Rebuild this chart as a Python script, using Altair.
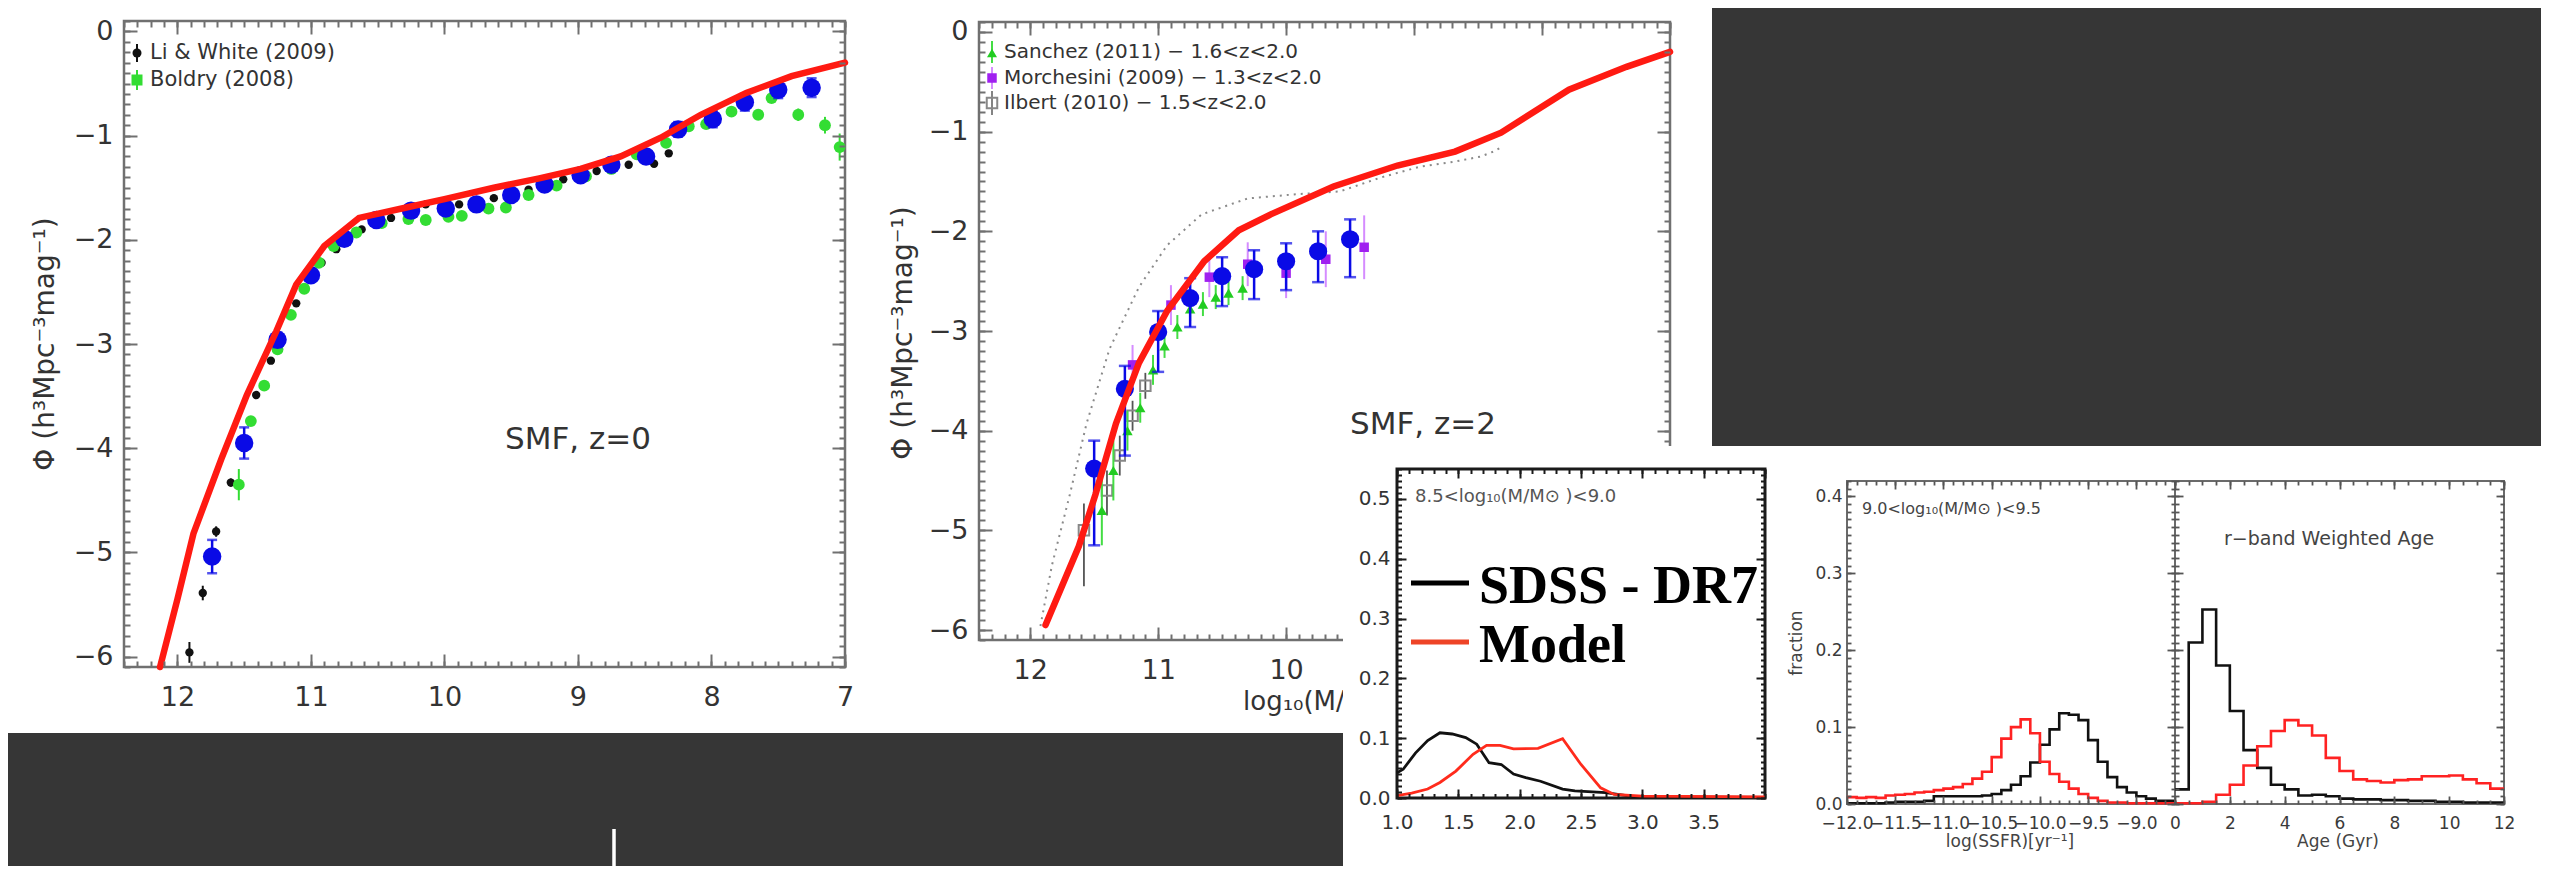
import altair as alt
import numpy as np
import pandas as pd

W, H = 2533, 858
FONT = "DejaVu Sans"
TXT = "#333333"

# ---------------- Panel 1 : SMF z=0 ----------------
p1_model_x = [12.13, 12.0, 11.88, 11.67, 11.48, 11.26, 11.11, 10.9, 10.64, 10.32, 10.0, 9.63, 9.29, 8.98, 8.68, 8.38, 8.08, 7.74, 7.40, 7.0]
p1_model_y = [-6.1, -5.45, -4.82, -4.1, -3.49, -2.88, -2.43, -2.06, -1.79, -1.70, -1.61, -1.50, -1.41, -1.32, -1.20, -1.02, -0.80, -0.59, -0.43, -0.30]

p1_blue_x = [11.74, 11.50, 11.25, 11.00, 10.75, 10.51, 10.25, 9.99, 9.76, 9.50, 9.25, 8.98, 8.75, 8.49, 8.25, 7.99, 7.75, 7.50, 7.25]
p1_blue_y = [-5.04, -3.95, -2.96, -2.34, -1.99, -1.81, -1.72, -1.70, -1.66, -1.57, -1.47, -1.38, -1.28, -1.20, -0.94, -0.84, -0.68, -0.56, -0.54]
p1_blue_e = [0.16, 0.15, 0.07, 0.06, 0.05, 0.05, 0.05, 0.05, 0.05, 0.05, 0.05, 0.05, 0.05, 0.06, 0.07, 0.08, 0.08, 0.08, 0.09]

p1_li_x = [11.91, 11.81, 11.71, 11.60, 11.41, 11.30, 11.11, 10.92, 10.81, 10.62, 10.40, 10.14, 9.89, 9.63, 9.37, 9.11, 8.86, 8.62, 8.43, 8.32]
p1_li_y = [-5.96, -5.39, -4.80, -4.33, -3.49, -3.16, -2.61, -2.22, -2.09, -1.90, -1.79, -1.66, -1.66, -1.60, -1.52, -1.42, -1.34, -1.28, -1.27, -1.17]
p1_li_e = [0.10, 0.07, 0.05, 0.04, 0.03, 0.03, 0.03, 0.03, 0.03, 0.03, 0.03, 0.03, 0.03, 0.03, 0.03, 0.03, 0.03, 0.03, 0.03, 0.03]

p1_bal_x = [11.54, 11.45, 11.35, 11.25, 11.15, 11.05, 10.94, 10.83, 10.66, 10.47, 10.27, 10.14, 9.97, 9.87, 9.67, 9.54, 9.37, 9.16, 8.94, 8.75, 8.56, 8.34, 8.17, 8.04, 7.85, 7.65, 7.55, 7.35, 7.15, 7.04]
p1_bal_y = [-4.35, -3.74, -3.40, -3.05, -2.72, -2.47, -2.22, -2.06, -1.93, -1.84, -1.80, -1.81, -1.78, -1.77, -1.70, -1.69, -1.57, -1.48, -1.39, -1.32, -1.18, -1.07, -0.91, -0.89, -0.77, -0.80, -0.64, -0.80, -0.90, -1.11]
p1_bal_e = [0.15, 0.04, 0.03, 0.03, 0.03, 0.03, 0.03, 0.03, 0.03, 0.03, 0.03, 0.03, 0.03, 0.03, 0.03, 0.03, 0.03, 0.03, 0.03, 0.03, 0.03, 0.03, 0.03, 0.03, 0.03, 0.03, 0.04, 0.06, 0.08, 0.13]

# ---------------- Panel 2 : SMF z=2 ----------------
p2_model_x = [11.88, 11.62, 11.49, 11.33, 11.15, 10.93, 10.64, 10.37, 10.12, 9.63, 9.13, 8.68, 8.32, 7.79, 7.34, 7.0]
p2_model_y = [-5.95, -5.16, -4.64, -3.93, -3.32, -2.80, -2.30, -1.99, -1.83, -1.55, -1.34, -1.20, -1.01, -0.58, -0.35, -0.20]

p2_dot_x = [11.92, 11.83, 11.69, 11.56, 11.38, 11.15, 10.93, 10.66, 10.30, 9.94, 9.58, 9.26, 8.95, 8.68, 8.48, 8.38, 8.31]
p2_dot_y = [-5.96, -5.35, -4.64, -3.93, -3.18, -2.56, -2.14, -1.83, -1.67, -1.63, -1.60, -1.46, -1.35, -1.30, -1.25, -1.20, -1.15]

p2_blue_x = [11.5, 11.26, 11.0, 10.75, 10.5, 10.25, 10.0, 9.75, 9.5]
p2_blue_y = [-4.38, -3.58, -3.01, -2.67, -2.45, -2.38, -2.30, -2.20, -2.08]
p2_blue_lo = [-5.15, -4.25, -3.41, -2.96, -2.75, -2.68, -2.59, -2.51, -2.46]
p2_blue_hi = [-4.10, -3.35, -2.80, -2.47, -2.26, -2.19, -2.12, -2.00, -1.88]

p2_san_x = [11.44, 11.35, 11.24, 11.14, 11.04, 10.95, 10.85, 10.75, 10.65, 10.55, 10.45, 10.34]
p2_san_y = [-4.80, -4.40, -4.00, -3.77, -3.39, -3.15, -2.96, -2.78, -2.73, -2.66, -2.62, -2.57]
p2_san_e = [0.35, 0.30, 0.20, 0.15, 0.15, 0.12, 0.12, 0.12, 0.12, 0.12, 0.12, 0.12]

p2_mar_x = [11.2, 10.9, 10.6, 10.3, 10.0, 9.69, 9.39]
p2_mar_y = [-3.34, -2.74, -2.46, -2.33, -2.42, -2.28, -2.16]
p2_mar_e = [0.20, 0.20, 0.20, 0.22, 0.25, 0.28, 0.32]

p2_ilb_x = [11.58, 11.40, 11.30, 11.20, 11.10]
p2_ilb_y = [-5.0, -4.6, -4.25, -3.85, -3.55]
p2_ilb_lo = [-5.56, -4.85, -4.45, -4.00, -3.68]
p2_ilb_hi = [-4.73, -4.40, -4.05, -3.70, -3.42]

# ---------------- Hist 1 ----------------
h1_black_x = [1.0, 1.05, 1.15, 1.25, 1.35, 1.45, 1.56, 1.65, 1.75, 1.85, 1.95, 2.05, 2.17, 2.35, 2.45, 2.7, 2.9, 3.2, 4.0]
h1_black_y = [0.042, 0.048, 0.075, 0.096, 0.109, 0.107, 0.101, 0.090, 0.059, 0.056, 0.040, 0.034, 0.028, 0.015, 0.012, 0.009, 0.003, 0.002, 0.001]
h1_red_x = [1.0, 1.12, 1.25, 1.35, 1.48, 1.62, 1.73, 1.84, 1.95, 2.15, 2.35, 2.5, 2.66, 2.77, 3.0, 4.0]
h1_red_y = [0.004, 0.008, 0.015, 0.026, 0.045, 0.073, 0.088, 0.088, 0.082, 0.083, 0.099, 0.056, 0.017, 0.006, 0.003, 0.002]

# ---------------- Hist 2 : SSFR (bins of 0.1 from -12) and Age (bins of 0.5 from 0) ----------------
ssfr_red = [0.009, 0.008, 0.009, 0.008, 0.011, 0.012, 0.013, 0.015, 0.016, 0.018, 0.020, 0.022, 0.026, 0.033, 0.042, 0.061, 0.085, 0.100, 0.110, 0.092, 0.055, 0.039, 0.029, 0.020, 0.013, 0.008, 0.004, 0.002, 0.002, 0.001, 0.001, 0.001, 0.001, 0.001]
ssfr_black = [0.001, 0.001, 0.001, 0.001, 0.002, 0.003, 0.003, 0.003, 0.004, 0.010, 0.010, 0.010, 0.010, 0.010, 0.011, 0.013, 0.018, 0.025, 0.036, 0.054, 0.077, 0.097, 0.118, 0.116, 0.109, 0.083, 0.055, 0.035, 0.022, 0.015, 0.010, 0.007, 0.004, 0.004]
age_black = [0.019, 0.210, 0.253, 0.180, 0.121, 0.070, 0.047, 0.025, 0.019, 0.011, 0.012, 0.010, 0.007, 0.006, 0.006, 0.005, 0.005, 0.004, 0.004, 0.003, 0.003, 0.002, 0.002, 0.002]
age_red = [0.001, 0.001, 0.003, 0.012, 0.025, 0.050, 0.075, 0.095, 0.109, 0.102, 0.089, 0.060, 0.043, 0.032, 0.030, 0.028, 0.031, 0.032, 0.036, 0.036, 0.037, 0.032, 0.027, 0.020]

# ---------------- Helpers ----------------
ONE = pd.DataFrame({"a": [0]})


def scl(dom, rng):
    return alt.Scale(domain=dom, range=rng, nice=False, zero=False)


def mk_axis(orient, values, tick, offset, color, width, labels=False, pad=0, fmt=None, fs=12, lc=TXT):
    kw = dict(orient=orient, values=[float(v) for v in values], tickSize=tick, offset=offset,
              tickColor=color, tickWidth=width, domain=False, grid=False, labels=labels,
              ticks=True, title=None, zindex=1)
    if labels:
        kw.update(labelPadding=pad, labelFontSize=fs, labelColor=lc, labelFont=FONT,
                  labelFlush=False, labelOverlap=False, labelBound=False)
        if fmt is not None:
            kw["format"] = fmt
        if orient in ("bottom", "top"):
            kw["labelBaseline"] = "middle"
    return alt.Axis(**kw)


def panel(g, data_fn):
    xs = scl(g["xdom"], [g["xr"], g["xl"]] if g.get("xrev") else [g["xl"], g["xr"]])
    ys = scl(g["ydom"], [g["yb"], g["yt"]])

    def off(orient, L):
        if orient == "bottom":
            return g["yb"] - L - H
        if orient == "top":
            return -(g["yt"] + L)
        if orient == "left":
            return -(g["xl"] + L)
        return g["xr"] - L - W

    fdf = pd.DataFrame({"x0": [g["xdom"][0]], "x1": [g["xdom"][1]],
                        "y0": [g["ydom"][0]], "y1": [g["ydom"][1]]})
    frame = alt.Chart(fdf).mark_rect(fillOpacity=0, stroke=g["fc"], strokeWidth=g["fw"]).encode(
        x=alt.X("x0:Q", scale=xs, axis=None), x2="x1:Q",
        y=alt.Y("y0:Q", scale=ys, axis=None), y2="y1:Q")

    adf = pd.DataFrame({"x": [g["xdom"][0]], "y": [g["ydom"][0]]})
    layers = [frame]
    tc, tw = g["tc"], g["tw"]
    ticks = {
        ("bottom", True): g.get("bmaj", g["xmaj"]), ("bottom", False): g.get("bmin", g["xmin"]),
        ("top", True): g["xmaj"], ("top", False): g["xmin"],
        ("left", True): g["ymaj"], ("left", False): g["ymin"],
        ("right", True): g.get("rmaj", g["ymaj"]), ("right", False): g.get("rmin", g["ymin"]),
    }
    for (xo, yo, lab) in (("bottom", "left", True), ("top", "right", False)):
        for major in (True, False):
            L = g["Lmaj"] if major else g["Lmin"]
            ax_x = mk_axis(xo, ticks[(xo, major)], L, off(xo, L), tc, tw,
                           labels=(lab and major and g["xlab"]), pad=g["xpad"],
                           fmt=g["xfmt"], fs=g["fs"], lc=g["lc"])
            ax_y = mk_axis(yo, ticks[(yo, major)], L, off(yo, L), tc, tw,
                           labels=(lab and major and g["ylab"]), pad=g["ypad"],
                           fmt=g["yfmt"], fs=g["fs"], lc=g["lc"])
            layers.append(alt.Chart(adf).mark_point(opacity=0).encode(
                x=alt.X("x:Q", scale=xs, axis=ax_x),
                y=alt.Y("y:Q", scale=ys, axis=ax_y)))
    layers += data_fn(xs, ys)
    return alt.layer(*layers).resolve_axis(x="independent", y="independent")


def enc(xs, ys, xf="x", yf="y"):
    return dict(x=alt.X(f"{xf}:Q", scale=xs, axis=None), y=alt.Y(f"{yf}:Q", scale=ys, axis=None))


def line(xs, ys, xv, yv, **mk):
    df = pd.DataFrame({"x": xv, "y": yv, "i": list(range(len(xv)))})
    return alt.Chart(df).mark_line(**mk).encode(order="i:Q", **enc(xs, ys))


def errbars(xs, ys, xv, lo, hi, color, width=2, cap=0):
    df = pd.DataFrame({"x": xv, "lo": lo, "hi": hi})
    out = [alt.Chart(df).mark_rule(color=color, strokeWidth=width).encode(
        x=alt.X("x:Q", scale=xs, axis=None), y=alt.Y("lo:Q", scale=ys, axis=None), y2="hi:Q")]
    if cap:
        for f in ("lo", "hi"):
            out.append(alt.Chart(df).mark_tick(orient="horizontal", size=cap, thickness=width, color=color).encode(
                x=alt.X("x:Q", scale=xs, axis=None), y=alt.Y(f"{f}:Q", scale=ys, axis=None)))
    return out


def pts(xs, ys, xv, yv, **mk):
    df = pd.DataFrame({"x": xv, "y": yv})
    return alt.Chart(df).mark_point(**mk).encode(**enc(xs, ys))


def step_hist(xs, ys, x0, width, vals, color):
    edges = [round(x0 + width * k, 4) for k in range(len(vals) + 1)]
    yv = list(vals) + [vals[-1]]
    df = pd.DataFrame({"x": edges, "y": yv, "i": list(range(len(edges)))})
    return alt.Chart(df).mark_line(interpolate="step-after", color=color, strokeWidth=2.6).encode(
        order="i:Q", **enc(xs, ys))


def text(x, y, s, fs, color=TXT, align="left", baseline="middle", angle=0, font=FONT, weight="normal"):
    return alt.Chart(ONE).mark_text(text=s, fontSize=fs, color=color, align=align, baseline=baseline,
                                    angle=angle, font=font, fontWeight=weight).encode(
        x=alt.value(x), y=alt.value(y))


def rect(x0, x1, y0, y1, color):
    return alt.Chart(ONE).mark_rect(color=color).encode(
        x=alt.value(x0), x2=alt.value(x1), y=alt.value(y0), y2=alt.value(y1))


def vrule(x, y0, y1, color, w):
    return alt.Chart(ONE).mark_rule(color=color, strokeWidth=w).encode(
        x=alt.value(x), y=alt.value(y0), y2=alt.value(y1))


def hrule(x0, x1, y, color, w):
    return alt.Chart(ONE).mark_rule(color=color, strokeWidth=w).encode(
        x=alt.value(x0), x2=alt.value(x1), y=alt.value(y))


def sym(x, y, **mk):
    return alt.Chart(ONE).mark_point(**mk).encode(x=alt.value(x), y=alt.value(y))


RED = "#ff1a12"
BLUE = "#0a0ae6"
GREEN = "#33dd33"

smf_style = dict(fc="#707070", fw=2.5, tc="#707070", tw=2, Lmaj=13, Lmin=6, fs=27, lc=TXT,
                 xmaj=[7, 8, 9, 10, 11, 12], xmin=np.round(np.arange(7.0, 12.41, 0.1), 2),
                 ymaj=[-6, -5, -4, -3, -2, -1, 0], ymin=np.round(np.arange(-6.1, 0.11, 0.1), 2),
                 xfmt="d", yfmt="d", xlab=True, ylab=True, xdom=[7, 12.4], ydom=[-6.1, 0.1], xrev=True,
                 xpad=30, ypad=11)

g1 = dict(smf_style, xl=116, xr=837, yt=13, yb=659)
# panel 2 is partly hidden by the histogram image: keep its guides out of that area
g2 = dict(smf_style, xl=971, xr=1662, yt=14, yb=632,
          bmaj=[10, 11, 12], bmin=np.round(np.arange(9.6, 12.41, 0.1), 2),
          rmaj=[-4, -3, -2, -1, 0], rmin=np.round(np.arange(-4.1, 0.11, 0.1), 2))


def p1_data(xs, ys):
    L = []
    L += errbars(xs, ys, p1_li_x, [a - e for a, e in zip(p1_li_y, p1_li_e)], [a + e for a, e in zip(p1_li_y, p1_li_e)], "#111", 2)
    L.append(pts(xs, ys, p1_li_x, p1_li_y, shape="circle", filled=True, size=70, color="#111", opacity=1))
    L += errbars(xs, ys, p1_bal_x, [a - e for a, e in zip(p1_bal_y, p1_bal_e)], [a + e for a, e in zip(p1_bal_y, p1_bal_e)], GREEN, 2)
    L.append(pts(xs, ys, p1_bal_x, p1_bal_y, shape="circle", filled=True, size=140, color=GREEN, opacity=1))
    L += errbars(xs, ys, p1_blue_x, [a - e for a, e in zip(p1_blue_y, p1_blue_e)], [a + e for a, e in zip(p1_blue_y, p1_blue_e)], BLUE, 2.5, cap=10)
    L.append(pts(xs, ys, p1_blue_x, p1_blue_y, shape="circle", filled=True, size=340, color=BLUE, opacity=1))
    L.append(line(xs, ys, p1_model_x, p1_model_y, color=RED, strokeWidth=6.5, strokeCap="round"))
    return L


def p2_data(xs, ys):
    L = []
    L.append(line(xs, ys, p2_dot_x, p2_dot_y, color="#8a8a8a", strokeWidth=2, strokeDash=[2, 5]))
    L += errbars(xs, ys, p2_ilb_x, p2_ilb_lo, p2_ilb_hi, "#555", 1.8)
    L.append(pts(xs, ys, p2_ilb_x, p2_ilb_y, shape="square", filled=False, size=110, color="#888", strokeWidth=2, opacity=1))
    L += errbars(xs, ys, p2_san_x, [a - e for a, e in zip(p2_san_y, p2_san_e)], [a + e for a, e in zip(p2_san_y, p2_san_e)], "#44dd44", 2)
    L.append(pts(xs, ys, p2_san_x, p2_san_y, shape="triangle-up", filled=True, size=110, color="#22cc22", opacity=1))
    L += errbars(xs, ys, p2_mar_x, [a - e for a, e in zip(p2_mar_y, p2_mar_e)], [a + e for a, e in zip(p2_mar_y, p2_mar_e)], "#d58cff", 2)
    L.append(pts(xs, ys, p2_mar_x, p2_mar_y, shape="square", filled=True, size=90, color="#a020f0", opacity=1))
    L += errbars(xs, ys, p2_blue_x, p2_blue_lo, p2_blue_hi, BLUE, 2.5, cap=12)
    L.append(pts(xs, ys, p2_blue_x, p2_blue_y, shape="circle", filled=True, size=330, color=BLUE, opacity=1))
    L.append(line(xs, ys, p2_model_x, p2_model_y, color=RED, strokeWidth=6.5, strokeCap="round"))
    return L


gh1 = dict(fc="#1a1a1a", fw=3, tc="#1a1a1a", tw=2, Lmaj=9, Lmin=4.5, fs=20, lc=TXT,
           xmaj=np.round(np.arange(1.0, 4.01, 0.5), 2), xmin=np.round(np.arange(1.0, 4.01, 0.1), 2),
           bmaj=np.round(np.arange(1.0, 3.51, 0.5), 2),
           ymaj=np.round(np.arange(0.0, 0.51, 0.1), 2), ymin=np.round(np.arange(0.0, 0.551, 0.01), 3),
           xfmt=".1f", yfmt=".1f", xlab=True, ylab=True, xdom=[1, 4], ydom=[0, 0.55],
           xl=1389, xr=1757, yt=461, yb=790, xpad=24, ypad=7)


def h1_data(xs, ys):
    return [line(xs, ys, h1_black_x, h1_black_y, color="#111", strokeWidth=2.8),
            line(xs, ys, h1_red_x, h1_red_y, color="#ff2b1c", strokeWidth=2.8)]


h2_common = dict(fc="#6a6a6a", fw=2, tc="#555", tw=1.8, Lmaj=8, Lmin=4, fs=17, lc="#3a3a3a",
                 ymaj=np.round(np.arange(0.0, 0.41, 0.1), 2), ymin=np.round(np.arange(0.0, 0.421, 0.01), 3),
                 yfmt=".1f", ydom=[0, 0.42], yt=473, yb=796, xpad=19, ypad=5)
gh2a = dict(h2_common, xmaj=np.round(np.arange(-12.0, -8.99, 0.5), 2), xmin=np.round(np.arange(-12.0, -8.59, 0.1), 2),
            xfmt=".1f", xlab=True, ylab=True, xdom=[-12, -8.6], xl=1839, xr=2167)
gh2b = dict(h2_common, xmaj=[0, 2, 4, 6, 8, 10, 12], xmin=np.round(np.arange(0.0, 12.01, 0.5), 2),
            xfmt="d", xlab=True, ylab=False, xdom=[0, 12], xl=2167, xr=2496)


def h2a_data(xs, ys):
    return [step_hist(xs, ys, -12.0, 0.1, ssfr_black, "#111"),
            step_hist(xs, ys, -12.0, 0.1, ssfr_red, "#ff2222")]


def h2b_data(xs, ys):
    return [step_hist(xs, ys, 0.0, 0.5, age_black, "#111"),
            step_hist(xs, ys, 0.0, 0.5, age_red, "#ff2222")]


layers = [rect(0, 1704, 0, 725, "white")]

# Panel 1
layers.append(panel(g1, p1_data))
layers += [
    text(38, 336, "Φ (h³Mpc⁻³mag⁻¹)", 28, angle=270, align="center"),
    text(497, 432, "SMF, z=0", 31),
    vrule(129, 36, 54, "#111", 2), sym(129, 45, shape="circle", filled=True, size=81, color="#111", opacity=1),
    text(142, 45, "Li & White (2009)", 21),
    vrule(129, 62, 82, GREEN, 2), sym(129, 72, shape="square", filled=True, size=121, color=GREEN, opacity=1),
    text(142, 72, "Boldry (2008)", 21),
]

# Panel 2
layers.append(panel(g2, p2_data))
layers += [
    text(896, 325, "Φ (h³Mpc⁻³mag⁻¹)", 28, angle=270, align="center"),
    text(1342, 417, "SMF, z=2", 31),
    text(1235, 694, "log₁₀(M/M⊙)", 26),
    vrule(984, 33, 55, "#44dd44", 2), sym(984, 45, shape="triangle-up", filled=True, size=100, color="#22cc22", opacity=1),
    text(996, 44, "Sanchez (2011) − 1.6<z<2.0", 20),
    vrule(984, 59, 81, "#d58cff", 2), sym(984, 70, shape="square", filled=True, size=90, color="#a020f0", opacity=1),
    text(996, 70, "Morchesini (2009) − 1.3<z<2.0", 20),
    vrule(984, 83, 107, "#777", 1.8), sym(984, 95, shape="square", filled=False, size=110, color="#888", strokeWidth=2, opacity=1),
    text(996, 95, "Ilbert (2010) − 1.5<z<2.0", 20),
]

# Hist 1
layers.append(rect(1335, 1759, 438, H, "white"))
layers.append(panel(gh1, h1_data))
layers += [
    text(1407, 489, "8.5<log₁₀(M/M⊙ )<9.0", 18, color="#555"),
    hrule(1403, 1461, 575, "#000", 5),
    text(1471, 595, "SDSS - DR7", 54, color="#000", baseline="alphabetic", font="Liberation Serif", weight="bold"),
    hrule(1403, 1461, 634, "#ee4427", 5),
    text(1471, 654, "Model", 54, color="#000", baseline="alphabetic", font="Liberation Serif", weight="bold"),
]

# Hist 2
layers.append(rect(1759, W, 438, H, "white"))
layers.append(panel(gh2a, h2a_data))
layers.append(panel(gh2b, h2b_data))
layers += [
    text(1854, 501, "9.0<log₁₀(M/M⊙ )<9.5", 16, color="#444"),
    text(2216, 531, "r−band Weighted Age", 19, color="#444"),
    text(2002, 834, "log(SSFR)[yr⁻¹]", 17, color="#444", align="center"),
    text(2330, 834, "Age (Gyr)", 17, color="#444", align="center"),
    text(1789, 635, "fraction", 17, color="#444", angle=270, align="center"),
]

layers.append(vrule(606, 821, H, "white", 3.5))

chart = alt.layer(*layers).resolve_scale(x="independent", y="independent").properties(
    width=W, height=H, autosize=alt.AutoSizeParams(type="none"), padding=0, background="#363636"
).configure_view(stroke=None)

chart.save("out.html", embed_options={"renderer": "svg", "actions": False})
